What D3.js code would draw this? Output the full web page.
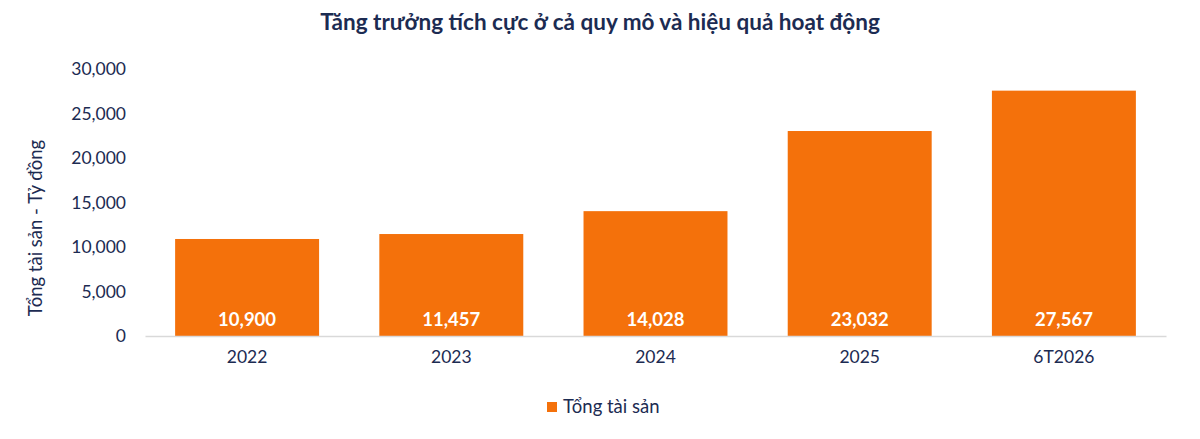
<!DOCTYPE html>
<html>
<head>
<meta charset="utf-8">
<script src="https://cdn.jsdelivr.net/npm/d3@7"></script>
<style>
  body { margin: 0; background: #fff; }
  text { font-family: Lato, "Open Sans", sans-serif; }
</style>
</head>
<body>
<div id="chart"></div>
<script>
const categories = ["2022", "2023", "2024", "2025", "6T2026"];
const values = [10900, 11457, 14028, 23032, 27567];
const yTicks = [0, 5000, 10000, 15000, 20000, 25000, 30000];
const seriesName = "Tổng tài sản";

const W = 1200, H = 439;
const margin = {top: 69, right: 34, bottom: 103, left: 145};
const width = W - margin.left - margin.right,
    height = H - margin.top - margin.bottom;
const navy = "#1c2b52", orange = "#f4710b";

const svg = d3.select("#chart").append("svg")
    .attr("width", W).attr("height", H);

// title
svg.append("text")
    .attr("x", 600).attr("y", 30)
    .attr("text-anchor", "middle")
    .style("font-size", "22.5px").style("font-weight", "bold")
    .attr("fill", navy)
    .text("Tăng trưởng tích cực ở cả quy mô và hiệu quả hoạt động");

const g = svg.append("g").attr("transform", `translate(${margin.left},${margin.top})`);

const x = d3.scaleBand().domain(categories).range([0, width]).paddingInner(0.295).paddingOuter(0.1475);
const y = d3.scaleLinear().domain([0, 30000]).range([height, 0]);

const yAxis = g.append("g")
    .call(d3.axisLeft(y).tickValues(yTicks).tickFormat(d3.format(",")).tickSize(0).tickPadding(19));
yAxis.select(".domain").remove();
yAxis.selectAll("text").style("font-size", "17.5px").attr("fill", navy);

g.selectAll("rect.bar").data(values).enter().append("rect")
    .attr("class", "bar")
    .attr("x", (d, i) => x(categories[i]))
    .attr("width", x.bandwidth())
    .attr("y", d => y(d))
    .attr("height", d => height - y(d))
    .attr("fill", orange);

const xAxis = g.append("g").attr("transform", `translate(0,${height})`)
    .call(d3.axisBottom(x).tickSize(0).tickPadding(15));
xAxis.select(".domain").attr("stroke", "#d9d9d9").attr("stroke-width", 1.5);
xAxis.selectAll("text").style("font-size", "17.5px").attr("fill", navy);

// value labels inside bars
g.selectAll("text.val").data(values).enter().append("text")
    .attr("class", "val")
    .attr("x", (d, i) => x(categories[i]) + x.bandwidth() / 2)
    .attr("y", height - 10)
    .attr("text-anchor", "middle")
    .style("font-size", "18.5px").style("font-weight", "bold")
    .attr("fill", "#fff")
    .text(d3.format(","));

svg.append("text")
    .attr("transform", "translate(42,228) rotate(-90)")
    .attr("text-anchor", "middle")
    .style("font-size", "18.5px")
    .attr("fill", navy)
    .text("Tổng tài sản - Tỷ đồng");

const leg = svg.append("g").attr("transform", "translate(547,402)");
leg.append("rect").attr("width", 10).attr("height", 10).attr("y", 0).attr("fill", orange);
leg.append("text").attr("x", 16).attr("y", 11)
    .style("font-size", "18.5px").attr("fill", navy).text(seriesName);
</script>
</body>
</html>
